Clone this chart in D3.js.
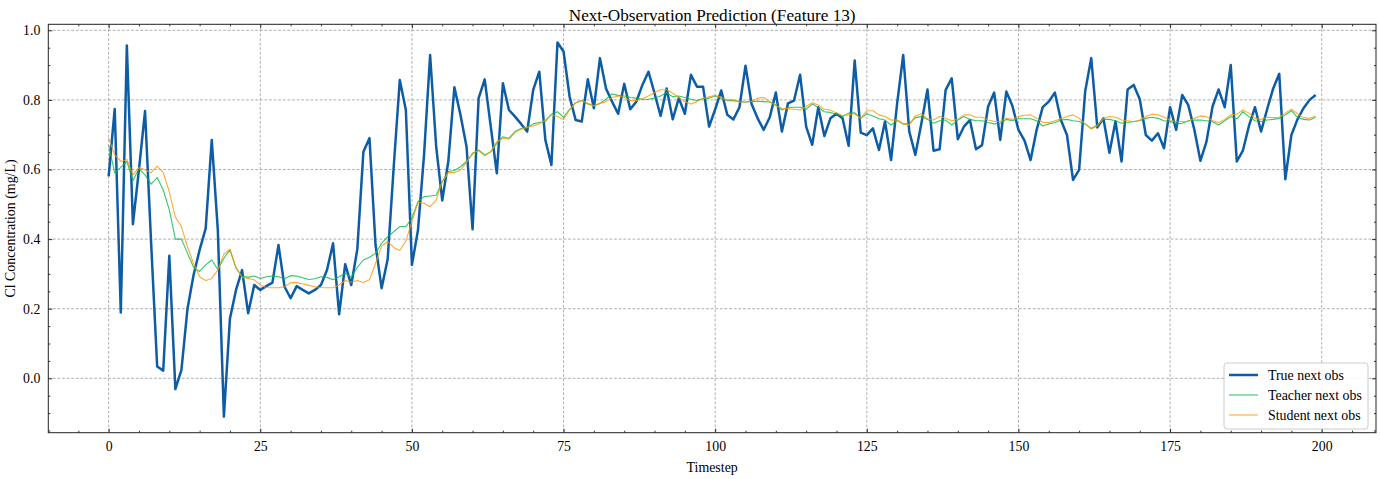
<!DOCTYPE html>
<html>
<head>
<meta charset="utf-8">
<script src="https://cdn.jsdelivr.net/npm/d3@7"></script>
<style>
  html, body { margin: 0; padding: 0; background: #fff; }
  svg { display: block; font-family: "Liberation Serif", "DejaVu Serif", serif; }
</style>
</head>
<body>
<svg id="chart" width="1380" height="479"></svg>
<script>
const title = "Next-Observation Prediction (Feature 13)";
const xLabel = "Timestep";
const yLabel = "Cl Concentration (mg/L)";
const seriesNames = ["True next obs", "Teacher next obs", "Student next obs"];
const xTicks = [0, 25, 50, 75, 100, 125, 150, 175, 200];
const yTicks = [0.0, 0.2, 0.4, 0.6, 0.8, 1.0];

const trueObs = [
  0.58, 0.774, 0.189, 0.956, 0.443, 0.60, 0.768, 0.39, 0.034, 0.022,
  0.352, -0.031, 0.024, 0.20, 0.297, 0.369, 0.431, 0.685, 0.426, -0.11,
  0.172, 0.254, 0.311, 0.187, 0.268, 0.254, 0.265, 0.275, 0.383, 0.263,
  0.23, 0.265, 0.254, 0.244, 0.254, 0.268, 0.311, 0.388, 0.184, 0.328,
  0.268, 0.371, 0.651, 0.69, 0.383, 0.259, 0.342, 0.608, 0.857, 0.771,
  0.326, 0.426, 0.642, 0.929, 0.666, 0.511, 0.623, 0.836, 0.757, 0.666,
  0.428, 0.805, 0.859, 0.723, 0.589, 0.848, 0.771, 0.752, 0.731, 0.709,
  0.829, 0.881, 0.685, 0.613, 0.965, 0.939, 0.809, 0.742, 0.738, 0.859,
  0.776, 0.92, 0.833, 0.795, 0.76, 0.846, 0.773, 0.795, 0.843, 0.881,
  0.819, 0.754, 0.833, 0.744, 0.805, 0.76, 0.872, 0.838, 0.838, 0.723,
  0.773, 0.827, 0.757, 0.744, 0.779, 0.898, 0.788, 0.747, 0.714, 0.75,
  0.821, 0.709, 0.79, 0.798, 0.872, 0.723, 0.671, 0.779, 0.696, 0.747,
  0.76, 0.747, 0.668, 0.913, 0.706, 0.699, 0.718, 0.656, 0.738, 0.627,
  0.79, 0.929, 0.709, 0.642, 0.733, 0.83, 0.654, 0.658, 0.829, 0.862,
  0.687, 0.723, 0.742, 0.658, 0.67, 0.781, 0.821, 0.685, 0.824, 0.783,
  0.714, 0.683, 0.627, 0.714, 0.779, 0.795, 0.821, 0.742, 0.699, 0.57,
  0.599, 0.824, 0.92, 0.721, 0.747, 0.648, 0.738, 0.623, 0.83, 0.843,
  0.802, 0.699, 0.683, 0.704, 0.661, 0.779, 0.714, 0.814, 0.785, 0.714,
  0.625, 0.68, 0.781, 0.83, 0.779, 0.9, 0.623, 0.654, 0.725, 0.779,
  0.709, 0.773, 0.833, 0.875, 0.572, 0.699, 0.744, 0.776, 0.8, 0.814
];

const teacherObs = [
  0.67, 0.59, 0.606, 0.623, 0.568, 0.603, 0.584, 0.558, 0.577, 0.541,
  0.484, 0.40, 0.40, 0.359, 0.319, 0.307, 0.326, 0.34, 0.313, 0.345,
  0.369, 0.316, 0.294, 0.29, 0.294, 0.287, 0.292, 0.294, 0.292, 0.286,
  0.295, 0.294, 0.289, 0.284, 0.286, 0.292, 0.29, 0.283, 0.292, 0.302,
  0.29, 0.319, 0.34, 0.348, 0.359, 0.388, 0.407, 0.421, 0.436, 0.436,
  0.46, 0.508, 0.522, 0.524, 0.526, 0.565, 0.594, 0.597, 0.608, 0.623,
  0.645, 0.656, 0.642, 0.651, 0.675, 0.694, 0.69, 0.709, 0.718, 0.721,
  0.731, 0.735, 0.738, 0.759, 0.766, 0.75, 0.773, 0.792, 0.798, 0.788,
  0.783, 0.79, 0.802, 0.817, 0.813, 0.811, 0.807, 0.805, 0.802, 0.802,
  0.805, 0.811, 0.821, 0.809, 0.811, 0.807, 0.802, 0.798, 0.804, 0.805,
  0.811, 0.805, 0.798, 0.798, 0.795, 0.794, 0.795, 0.796, 0.795, 0.794,
  0.785, 0.771, 0.779, 0.779, 0.779, 0.773, 0.788, 0.779, 0.766, 0.764,
  0.759, 0.752, 0.762, 0.763, 0.747, 0.76, 0.754, 0.746, 0.742, 0.728,
  0.741, 0.731, 0.731, 0.749, 0.752, 0.744, 0.733, 0.74, 0.742, 0.728,
  0.742, 0.752, 0.744, 0.74, 0.74, 0.735, 0.731, 0.733, 0.744, 0.74,
  0.746, 0.746, 0.746, 0.74, 0.725, 0.731, 0.735, 0.742, 0.744, 0.74,
  0.738, 0.731, 0.718, 0.728, 0.744, 0.744, 0.74, 0.733, 0.735, 0.738,
  0.74, 0.747, 0.75, 0.747, 0.74, 0.738, 0.731, 0.733, 0.74, 0.742,
  0.742, 0.74, 0.737, 0.728, 0.74, 0.752, 0.745, 0.766, 0.752, 0.74,
  0.738, 0.742, 0.744, 0.747, 0.757, 0.769, 0.75, 0.744, 0.742, 0.75
];

const studentObs = [
  0.69, 0.642, 0.623, 0.629, 0.584, 0.606, 0.599, 0.591, 0.61, 0.591,
  0.536, 0.463, 0.436, 0.378, 0.33, 0.292, 0.281, 0.287, 0.311, 0.357,
  0.371, 0.319, 0.29, 0.287, 0.283, 0.268, 0.261, 0.26, 0.26, 0.263,
  0.275, 0.275, 0.271, 0.267, 0.263, 0.261, 0.26, 0.26, 0.268, 0.281,
  0.276, 0.281, 0.275, 0.283, 0.33, 0.38, 0.393, 0.376, 0.367, 0.395,
  0.45, 0.505, 0.503, 0.493, 0.512, 0.565, 0.591, 0.591, 0.599, 0.62,
  0.648, 0.654, 0.639, 0.651, 0.68, 0.69, 0.687, 0.706, 0.716, 0.721,
  0.725, 0.731, 0.742, 0.757, 0.752, 0.744, 0.771, 0.792, 0.798, 0.79,
  0.783, 0.79, 0.795, 0.807, 0.811, 0.807, 0.798, 0.798, 0.804, 0.811,
  0.821, 0.829, 0.829, 0.819, 0.807, 0.795, 0.788, 0.795, 0.804, 0.809,
  0.813, 0.807, 0.8, 0.8, 0.794, 0.794, 0.796, 0.805, 0.807, 0.795,
  0.783, 0.776, 0.775, 0.773, 0.771, 0.781, 0.792, 0.785, 0.773, 0.771,
  0.762, 0.755, 0.757, 0.76, 0.747, 0.769, 0.769, 0.757, 0.752, 0.742,
  0.742, 0.731, 0.728, 0.754, 0.76, 0.746, 0.742, 0.752, 0.747, 0.74,
  0.744, 0.757, 0.757, 0.75, 0.75, 0.742, 0.738, 0.738, 0.747, 0.744,
  0.752, 0.756, 0.757, 0.747, 0.735, 0.735, 0.74, 0.746, 0.752, 0.757,
  0.747, 0.731, 0.716, 0.725, 0.747, 0.752, 0.75, 0.742, 0.74, 0.737,
  0.742, 0.752, 0.759, 0.757, 0.75, 0.742, 0.737, 0.738, 0.738, 0.747,
  0.754, 0.752, 0.74, 0.735, 0.744, 0.757, 0.759, 0.771, 0.762, 0.747,
  0.744, 0.75, 0.749, 0.75, 0.762, 0.773, 0.76, 0.749, 0.747, 0.754
];

const svg = d3.select("#chart");
const margin = {left: 48.3, right: 1376, top: 24.3, bottom: 432.7};

const x = d3.scaleLinear().domain([-9.95, 208.95]).range([margin.left, margin.right]);
const y = d3.scaleLinear().domain([-0.1563, 1.0172]).range([margin.bottom, margin.top]);

const W = margin.right - margin.left, H = margin.bottom - margin.top;

// grid
const grid = svg.append("g");
grid.selectAll(".gx").data(xTicks.filter(t => x(t) <= margin.right)).enter().append("line")
  .attr("x1", d => x(d)).attr("x2", d => x(d)).attr("y1", margin.top).attr("y2", margin.bottom)
  .attr("stroke", "#8c8c8c").attr("stroke-width", 0.7).attr("stroke-dasharray", "2.8,1.8");
grid.selectAll(".gy").data(yTicks).enter().append("line")
  .attr("y1", d => y(d)).attr("y2", d => y(d)).attr("x1", margin.left).attr("x2", margin.right)
  .attr("stroke", "#8c8c8c").attr("stroke-width", 0.7).attr("stroke-dasharray", "2.8,1.8");

// lines
const line = d3.line().x((d, i) => x(i)).y(d => y(d));
svg.append("defs").append("clipPath").attr("id", "clip")
  .append("rect").attr("x", margin.left).attr("y", margin.top).attr("width", W).attr("height", H);
const lines = svg.append("g").attr("clip-path", "url(#clip)");
lines.append("path").datum(trueObs).attr("d", line).attr("fill", "none")
  .attr("stroke", "#0C5DA5").attr("stroke-width", 2.5).attr("stroke-linejoin", "round");
lines.append("path").datum(teacherObs).attr("d", line).attr("fill", "none")
  .attr("stroke", "#00B945").attr("stroke-opacity", 0.8).attr("stroke-width", 1.1).attr("stroke-linejoin", "round");
lines.append("path").datum(studentObs).attr("d", line).attr("fill", "none")
  .attr("stroke", "#FF9500").attr("stroke-opacity", 0.8).attr("stroke-width", 1.1).attr("stroke-linejoin", "round");

// axes (inward ticks on all sides)
const xMinor = d3.range(-5, 210, 5).filter(v => v % 25 !== 0 && x(v) >= margin.left && x(v) <= margin.right);
const yMinor = d3.range(-15, 102, 5).map(v => v / 100).filter(v => Math.round(v * 100) % 20 !== 0 && y(v) <= margin.bottom && y(v) >= margin.top);
const xMaj = xTicks.filter(t => x(t) <= margin.right);

const axisBottom = d3.axisBottom(x).tickValues(xMaj).tickSize(-4).tickPadding(9).tickFormat(d3.format("d"));
const axisTop = d3.axisTop(x).tickValues(xMaj).tickSize(-4).tickFormat("");
const axisLeft = d3.axisLeft(y).tickValues(yTicks).tickSize(-4).tickPadding(8).tickFormat(d3.format(".1f"));
const axisRight = d3.axisRight(y).tickValues(yTicks).tickSize(-4).tickFormat("");

function styleAxis(g) {
  g.select(".domain").remove();
  g.selectAll("line").attr("stroke", "#000").attr("stroke-width", 0.8);
  g.selectAll("text").attr("font-family", "Liberation Serif, serif").attr("font-size", 13.8).attr("fill", "#000");
}
svg.append("g").attr("transform", `translate(0,${margin.bottom})`).call(axisBottom).call(styleAxis);
svg.append("g").attr("transform", `translate(0,${margin.top})`).call(axisTop).call(styleAxis);
svg.append("g").attr("transform", `translate(${margin.left},0)`).call(axisLeft).call(styleAxis);
svg.append("g").attr("transform", `translate(${margin.right},0)`).call(axisRight).call(styleAxis);

// minor ticks
svg.append("g").attr("transform", `translate(0,${margin.bottom})`)
  .call(d3.axisBottom(x).tickValues(xMinor).tickSize(-2).tickFormat("")).call(styleAxis);
svg.append("g").attr("transform", `translate(0,${margin.top})`)
  .call(d3.axisTop(x).tickValues(xMinor).tickSize(-2).tickFormat("")).call(styleAxis);
svg.append("g").attr("transform", `translate(${margin.left},0)`)
  .call(d3.axisLeft(y).tickValues(yMinor).tickSize(-2).tickFormat("")).call(styleAxis);
svg.append("g").attr("transform", `translate(${margin.right},0)`)
  .call(d3.axisRight(y).tickValues(yMinor).tickSize(-2).tickFormat("")).call(styleAxis);

// frame
svg.append("rect").attr("x", margin.left).attr("y", margin.top).attr("width", W).attr("height", H)
  .attr("fill", "none").attr("stroke", "#222").attr("stroke-width", 1);

// title & labels
svg.append("text").attr("x", (margin.left + margin.right) / 2).attr("y", 20.5)
  .attr("text-anchor", "middle").attr("font-size", 17.2).text(title);
svg.append("text").attr("x", (margin.left + margin.right) / 2).attr("y", 472)
  .attr("text-anchor", "middle").attr("font-size", 13.9).text(xLabel);
svg.append("text").attr("transform", `translate(15,${(margin.top + margin.bottom) / 2}) rotate(-90)`)
  .attr("text-anchor", "middle").attr("font-size", 13.9).text(yLabel);

// legend
const colors = ["#0C5DA5", "#00B945", "#FF9500"];
const widths = [2.5, 1.1, 1.1];
const opac = [1, 0.8, 0.8];
const lg = svg.append("g").attr("transform", "translate(1224,363)");
lg.append("rect").attr("x", 0).attr("y", 0).attr("width", 144).attr("height", 66).attr("rx", 3)
  .attr("fill", "#fff").attr("fill-opacity", 0.85).attr("stroke", "#cccccc").attr("stroke-width", 1);
seriesNames.forEach((name, i) => {
  const yy = 12 + i * 20;
  lg.append("line").attr("x1", 5).attr("x2", 34).attr("y1", yy).attr("y2", yy)
    .attr("stroke", colors[i]).attr("stroke-width", widths[i]).attr("stroke-opacity", opac[i]);
  lg.append("text").attr("x", 44).attr("y", yy + 4.8).attr("font-size", 13.9).text(name);
});
</script>
</body>
</html>
